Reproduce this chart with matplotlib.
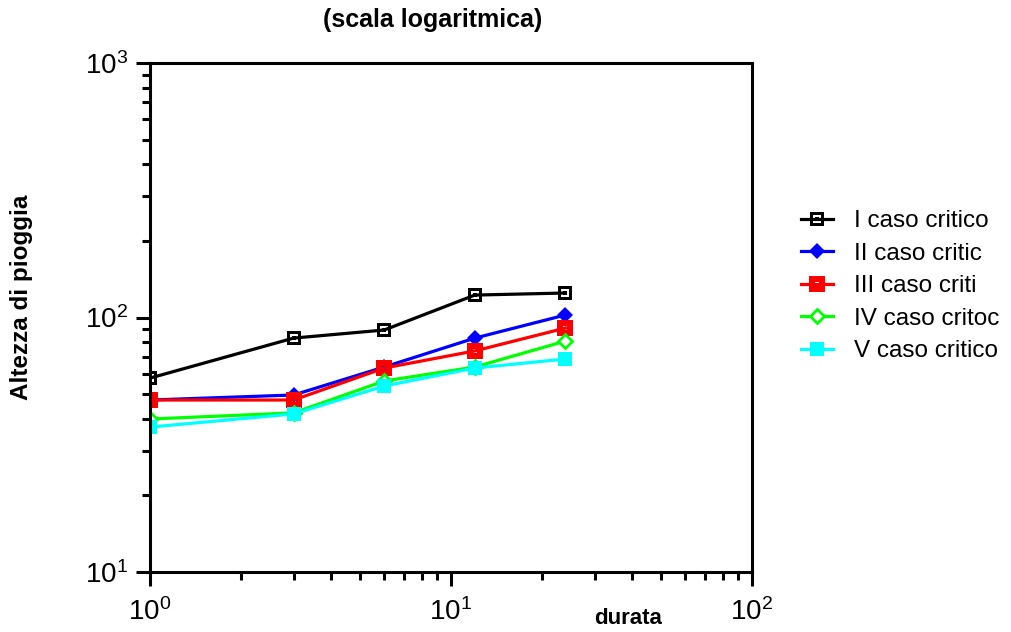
import matplotlib
matplotlib.use("Agg")
import matplotlib.pyplot as plt
import numpy as np
from matplotlib.path import Path
from matplotlib.ticker import LogLocator, FuncFormatter, NullFormatter

plt.rcParams['font.family'] = ['Liberation Sans', 'DejaVu Sans']
plt.rcParams['mathtext.fontset'] = 'custom'
plt.rcParams['mathtext.rm'] = 'Liberation Sans'

# Dati ------------------------------------------------------------------------

durata = [1, 3, 6, 12, 24]
caso_1 = [57.8, 83.0, 89.3, 122.5, 124.8]
caso_2 = [47.4, 49.6, 63.9, 83.0, 102.3]
caso_3 = [47.4, 47.4, 63.3, 73.9, 90.9]
caso_4 = [39.9, 42.2, 56.3, 63.9, 80.8]
caso_5 = [37.1, 41.8, 53.8, 63.3, 68.7]
etichette = ['I caso critico', 'II caso critic', 'III caso criti',
             'IV caso critoc', 'V caso critico']


# Marker: quadrato con punto al centro ----------------------------------------

def square_marker(hole, dot):
    def sq(h, ccw=True):
        v = [(-h, -h), (h, -h), (h, h), (-h, h), (-h, -h)]
        return v if ccw else v[::-1]
    verts = sq(1.0) + sq(hole, ccw=False) + sq(dot)
    codes = ([Path.MOVETO] + [Path.LINETO] * 3 + [Path.CLOSEPOLY]) * 3
    return Path(verts, codes)


open_sq = square_marker(0.6, 0.22)
solid_sq = square_marker(0.22, 0.0001)

# Grafico ---------------------------------------------------------------------

fig = plt.figure(figsize=(10.12, 6.32), dpi=100)
ax = fig.add_axes([150/1012, 60/632, 602/1012, 509/632])

lw = 2.3
ax.plot(durata, caso_1, color='black', lw=lw, marker=open_sq, ms=10.5,
        mew=0, label=etichette[0])
ax.plot(durata, caso_2, color='#0000ff', lw=lw, marker='D', ms=8.5,
        mew=0, label=etichette[1])
ax.plot(durata, caso_3, color='#ff0000', lw=lw, marker=solid_sq, ms=12,
        mew=0, label=etichette[2])
ax.plot(durata, caso_4, color='#00ff00', lw=lw, marker='D', ms=7.5,
        mfc='white', mew=2.0, label=etichette[3])
ax.plot(durata, caso_5, color='#00ffff', lw=lw, marker='s', ms=10.5,
        mew=0, label=etichette[4])

ax.set_xscale('log')
ax.set_yscale('log')
ax.set_xlim(1, 100)
ax.set_ylim(10, 1000)

fmt = FuncFormatter(lambda v, p: r'$\mathregular{10^{%d}}$' % round(np.log10(v)))
for axis in (ax.xaxis, ax.yaxis):
    axis.set_major_locator(LogLocator(base=10))
    axis.set_minor_locator(LogLocator(base=10, subs=np.arange(2, 10)))
    axis.set_major_formatter(fmt)
    axis.set_minor_formatter(NullFormatter())

for s in ax.spines.values():
    s.set_linewidth(2.2)
ax.tick_params(which='major', direction='out', length=10, width=2.2,
               labelsize=20, pad=6)
ax.tick_params(which='minor', direction='out', length=6, width=2.2)
ax.tick_params(axis='x', which='major', pad=9)

fig.text(433/1012, 1 - 20/632, '(scala logaritmica)', ha='center', va='center',
         fontsize=18, fontweight='bold')
fig.text(22/1012, 1 - 297/632, 'Altezza di pioggia', rotation=90, ha='center',
         va='center', fontsize=17.5, fontweight='bold')
fig.text(628/1012, 1 - 618/632, 'durata', ha='center', va='center',
         fontsize=16, fontweight='bold')

fig.legend(loc='upper left', bbox_to_anchor=(782/1012, 1 - 191/632),
           frameon=False, fontsize=17.5, handlelength=1.3, handletextpad=0.85,
           labelspacing=0.43, borderpad=0.3)

plt.savefig('out.png', dpi=100)
